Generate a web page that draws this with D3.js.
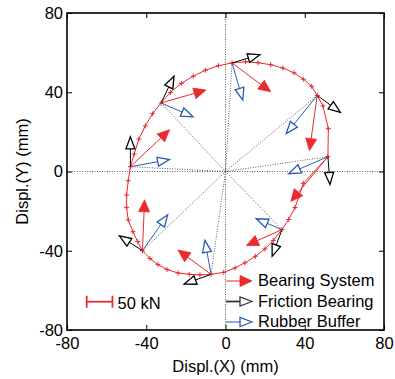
<!DOCTYPE html>
<html>
<head>
<meta charset="utf-8">
<script src="https://cdn.jsdelivr.net/npm/d3@7"></script>
<style>
body { margin: 0; background: #fff; }
text { font-family: "Liberation Sans", Arial, Helvetica, sans-serif; }
</style>
</head>
<body>
<div class="chart"></div>
<script>
(function() {
var margin = {top: 13, right: 11, bottom: 49, left: 67},
    width = 395 - margin.left - margin.right,
    height = 379 - margin.top - margin.bottom;

// orbit of the bearing (mm)
var loopX = [-48.0,-46.1,-43.7,-40.5,-36.8,-32.5,-27.8,-22.3,-16.3,-10.2,-3.6,3.3,10.1,16.4,22.8,29.0,34.6,39.3,43.5,46.3,49.2,51.9,51.7,39.3,37.1,35.1,31.9,28.5,24.1,19.9,15.1,9.8,4.8,-0.9,-7.3,-12.9,-18.3,-24.0,-29.5,-34.1,-38.1,-41.9,-44.3,-46.7,-49.1,-49.9,-49.9,-49.1,-48.0]
var loopY = [2.4,8.8,16.4,23.0,29.2,34.6,39.9,44.5,48.1,51.1,53.4,54.8,55.4,54.9,53.9,52.2,49.8,46.6,43.0,38.4,33.1,21.6,7.5,-6.0,-12.4,-18.2,-24.2,-29.3,-34.8,-39.1,-42.8,-46.1,-48.7,-50.9,-51.9,-52.2,-51.9,-51.2,-49.5,-47.0,-43.9,-40.0,-35.4,-30.4,-24.5,-18.1,-11.9,-4.6,2.4]

// points where the forces are drawn (mm)
var ptX = [-48.0,-32.5,3.3,46.3,51.7,28.5,-7.3,-41.9]
var ptY = [2.4,34.6,54.8,38.4,7.5,-29.3,-51.9,-40.0]

// friction bearing force (kN)
var fricX = [0,25,54,45,4,-19,-52,-45]
var fricY = [58,52,16,-33,-54,-52,-19,29]
// rubber buffer force (kN)
var rubX = [76,62,21,-60,-76,-50,-12,49]
var rubY = [14,-27,-72,-74,-33,21,66,70]

var xTicks = [-80,-40,0,40,80]
var yTicks = [-80,-40,0,40,80]
var legendNames = ["Bearing System","Friction Bearing","Rubber Buffer"]
var refForce = 50   // kN, scale bar
var mmPerKN = 13 / 50

var red = "#ea2a2e", blue = "#2a5db0", black = "#000"

var svg = d3.select(".chart").append("svg")
  .attr("width", 395).attr("height", 379)
var g = svg.append("g").attr("transform", "translate(" + margin.left + "," + margin.top + ")")

var x = d3.scaleLinear().domain([-80, 80]).range([0, width])
var y = d3.scaleLinear().domain([-80, 80]).range([height, 0])

// axes, ticks pointing inward
var fs = "16.5px"
var plain = function(d) { return String(d) }  // keep the plain hyphen
g.append("g").attr("transform", "translate(0," + height + ")")
  .call(d3.axisBottom(x).tickValues(xTicks).tickSize(-5).tickPadding(7).tickFormat(plain))
g.append("g")
  .call(d3.axisLeft(y).tickValues(yTicks).tickSize(-5).tickPadding(4).tickFormat(plain))
g.append("g")
  .call(d3.axisTop(x).tickValues(xTicks).tickSize(-5).tickFormat(""))
g.append("g").attr("transform", "translate(" + width + ",0)")
  .call(d3.axisRight(y).tickValues(yTicks).tickSize(-5).tickFormat(""))
g.selectAll(".domain").remove()
g.selectAll(".tick text").style("font-size", fs).attr("fill", "#000")
g.selectAll(".tick line").attr("stroke", "#000")

// dotted reference lines
var dot = g.append("g").attr("stroke", "#333").attr("stroke-width", 0.8).attr("stroke-dasharray", "1,1.5")
dot.append("line").attr("x1", x(-80)).attr("x2", x(80)).attr("y1", y(0)).attr("y2", y(0))
dot.append("line").attr("x1", x(0)).attr("x2", x(0)).attr("y1", y(-80)).attr("y2", y(80))
dot.selectAll(".ray").data(ptX).enter().append("line")
  .attr("x1", x(0)).attr("y1", y(0))
  .attr("x2", function(d) { return x(d) })
  .attr("y2", function(d, i) { return y(ptY[i]) })

// orbit
var loop = loopX.map(function(d, i) { return [d, loopY[i]] })
g.append("path").datum(loop)
  .attr("fill", "none").attr("stroke", red).attr("stroke-width", 1)
  .attr("d", d3.line().x(function(d) { return x(d[0]) }).y(function(d) { return y(d[1]) }))
g.selectAll(".mk").data(loop.slice(0, -1)).enter().append("path")
  .attr("stroke", red).attr("stroke-width", 1).attr("fill", "none")
  .attr("d", function(d) {
    var cx = x(d[0]), cy = y(d[1])
    return "M" + (cx - 2.5) + "," + cy + "H" + (cx + 2.5) + "M" + cx + "," + (cy - 2.5) + "V" + (cy + 2.5)
  })

function arrow(sel, x1, y1, x2, y2, color, filled, w) {
  var dx = x2 - x1, dy = y2 - y1, L = Math.hypot(dx, dy)
  var ux = dx / L, uy = dy / L
  var hl = 12, hw = filled ? 5.5 : 4.5
  var bx = x2 - ux * hl, by = y2 - uy * hl
  sel.append("line").attr("x1", x1).attr("y1", y1).attr("x2", bx).attr("y2", by)
    .attr("stroke", color).attr("stroke-width", w || 1)
  sel.append("path")
    .attr("d", "M" + x2 + "," + y2 + "L" + (bx - uy * hw) + "," + (by + ux * hw) + "L" + (bx + uy * hw) + "," + (by - ux * hw) + "Z")
    .attr("fill", filled ? color : "#fff").attr("stroke", color).attr("stroke-width", filled ? 0.8 : 1.3)
}

var arr = g.append("g")
ptX.forEach(function(px, i) {
  var py = ptY[i]
  var sx = x(px), sy = y(py)
  arrow(arr, sx, sy, x(px + rubX[i] * mmPerKN), y(py + rubY[i] * mmPerKN), blue, false)
  arrow(arr, sx, sy, x(px + fricX[i] * mmPerKN), y(py + fricY[i] * mmPerKN), black, false)
  var tx = fricX[i] + rubX[i], ty = fricY[i] + rubY[i]
  arrow(arr, sx, sy, x(px + tx * mmPerKN), y(py + ty * mmPerKN), red, true)
})

// frame
g.append("rect").attr("width", width).attr("height", height)
  .attr("fill", "none").attr("stroke", "#000").attr("stroke-width", 1.6)

// axis titles
svg.append("text").attr("x", margin.left + x(0)).attr("y", 372)
  .attr("text-anchor", "middle").style("font-size", fs).text("Displ.(X) (mm)")
svg.append("text").attr("transform", "translate(28," + (margin.top + y(0)) + ") rotate(-90)")
  .attr("text-anchor", "middle").style("font-size", fs).text("Displ.(Y) (mm)")

// scale bar
var barLen = x(refForce * mmPerKN) - x(0)
var sb = g.append("g").attr("transform", "translate(" + (86.7 - margin.left) + "," + (301.7 - margin.top) + ")")
sb.append("line").attr("x1", 0).attr("x2", barLen).attr("stroke", red).attr("stroke-width", 1.8)
sb.append("line").attr("y1", -6).attr("y2", 6).attr("stroke", red).attr("stroke-width", 1.8)
sb.append("line").attr("x1", barLen).attr("x2", barLen).attr("y1", -6).attr("y2", 6).attr("stroke", red).attr("stroke-width", 1.8)
sb.append("text").attr("x", barLen + 5).attr("y", 7).style("font-size", fs).text(refForce + " kN")

// legend
var legColors = [red, "#333", blue]
var lg = svg.append("g").attr("transform", "translate(226,281)")
legendNames.forEach(function(name, i) {
  var row = lg.append("g").attr("transform", "translate(0," + (i * 20.5) + ")")
  arrow(row, 0, 0, 26, 0, legColors[i], i == 0, i == 1 ? 1.8 : 1)
  row.append("text").attr("x", 32).attr("y", 5).style("font-size", fs).text(name)
})
})()
</script>
</body>
</html>
